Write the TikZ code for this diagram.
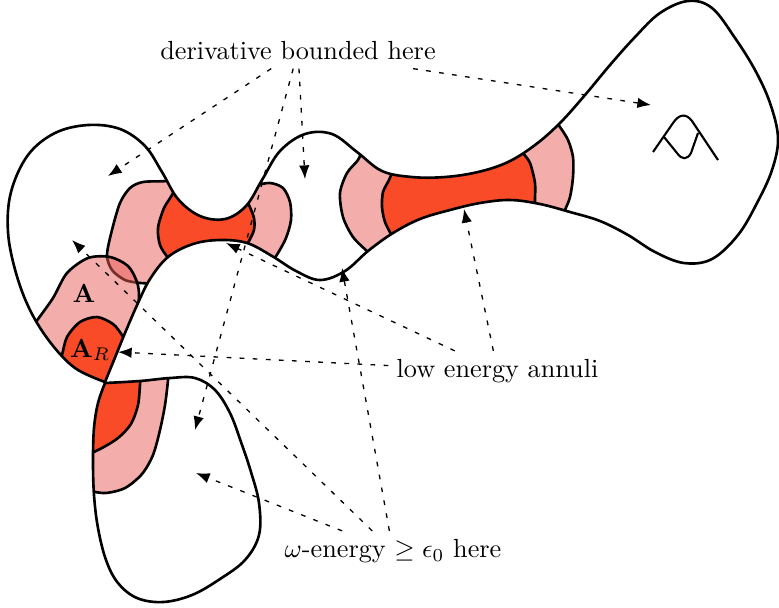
\documentclass[tikz,border=0pt]{standalone}
\usetikzlibrary{arrows.meta}
\definecolor{annred}{RGB}{250,75,40}
\definecolor{annpink}{RGB}{232,92,88}
\begin{document}
\begin{tikzpicture}[x=0.3817pt,y=-0.3817pt,
  outl/.style={line width=1pt, line join=round},
  pinkreg/.style={fill=annpink, fill opacity=0.5, draw=black, line width=1pt},
  redreg/.style={fill=annred, draw=black, line width=1pt},
  ptr/.style={dash pattern=on 1.8pt off 3.2pt, line width=0.5pt, -{Latex[length=5.2pt,width=4pt]}},
  lbl/.style={inner sep=3pt},
  upperoutline/.style={insert path={plot[smooth, tension=0.6] coordinates {
    (105,382) (75,368) (50,342) (30,310) (16,273) (8,232) (11,192) (28,155) (55,133)
    (88,125) (120,129) (145,146) (162,172) (178,199) (200,216) (225,219) (246,206)
    (262,180) (280,151) (305,134) (332,134) (357,152) (382,171) (412,177) (445,177)
    (478,172) (508,162) (535,145) (560,123) (585,95) (610,65) (635,37) (660,13)
    (688,1) (712,8) (735,38) (755,70) (770,103) (778,138) (772,170) (757,203)
    (738,235) (712,259) (684,263) (655,252) (628,235) (600,221) (570,212) (540,204)
    (510,200) (480,203) (450,210) (420,219) (393,233) (368,251) (345,271) (320,280)
    (296,271) (272,256) (247,243) (220,240) (193,244) (168,257) (150,279) (138,303)
    (125,333) (114,360) (105,382)} -- cycle}},
  loweroutline/.style={insert path={plot[smooth, tension=0.6] coordinates {
    (105,383) (140,381) (170,378) (195,378) (215,390) (230,413) (241,442) (251,472)
    (259,503) (259,535) (245,560) (220,579) (192,595) (163,602) (137,598) (118,583)
    (106,560) (98,528) (94,495) (93,460) (94,428) (98,403) (105,383)} -- cycle}}
]
\useasboundingbox (0,0) rectangle (779,607);

% annuli in the upper chain of bubbles
\begin{scope}
  \clip[upperoutline];
  % neck, left pink
  \path[pinkreg] plot[smooth] coordinates {(185,178) (167,181) (143,182) (130,188) (120,203)
     (112,230) (107,255) (112,270) (125,280) (140,283)} -- (160,284) -- (185,262) -- cycle;
  % annulus A
  \path[pinkreg] plot[smooth] coordinates {(28,335) (36,322) (53,298) (67,273) (88,258)
     (110,257) (128,266) (137,282) (139,297) (136,318) (130,345)} -- (115,395) -- (50,375) -- cycle;
  % neck, right pink
  \path[pinkreg] plot[smooth] coordinates {(240,195) (255,186) (270,183) (283,188) (290,202)
     (291,220) (286,238) (278,253) (270,265)} -- (230,265) -- cycle;
  % neck, red
  \path[redreg] plot[smooth] coordinates {(176,178) (173,193) (164,208) (158,228) (160,245)
     (168,258) (178,272)} -- (250,262) -- plot[smooth] coordinates {(244,250) (249,241)
     (254,230) (254,218) (249,205) (243,192)} -- cycle;
  % A_R, red
  \path[redreg] plot[smooth] coordinates {(58,365) (62,355) (67,337) (80,322) (97,317)
     (113,324) (122,335) (128,345)} -- (120,400) -- cycle;
  % middle annulus, pinks
  \path[pinkreg] plot[smooth] coordinates {(362,150) (358,160) (347,173) (340,193) (343,217)
     (353,237) (368,252) (375,258)} -- (420,250) -- (420,160) -- cycle;
  \path[pinkreg] plot[smooth] coordinates {(555,120) (560,127) (568,140) (573,157) (573,177)
     (570,197) (565,210) (562,218)} -- (500,220) -- (500,140) -- cycle;
  % middle annulus, red
  \path[redreg] plot[smooth] coordinates {(393,170) (389,180) (383,192) (382,207) (385,222)
     (392,236) (397,245)} -- (540,215) -- plot[smooth] coordinates {(536,210) (535,200)
     (535,183) (530,163) (523,153) (518,145)} -- cycle;
\end{scope}

% annuli in the lower bubble
\begin{scope}
  \clip[loweroutline];
  \path[pinkreg] plot[smooth] coordinates {(168,370) (168,380) (165,405) (160,430) (153,455)
     (142,474) (125,488) (105,493) (85,490)} -- (85,370) -- cycle;
  \path[redreg] plot[smooth] coordinates {(141,372) (140,385) (138,405) (131,424) (118,438)
     (102,448) (85,456)} -- (85,370) -- cycle;
\end{scope}

% outlines
\draw[outl, upperoutline];
\draw[outl, loweroutline];

% mark in the right bubble
\draw[line width=0.8pt, line join=round] (653,152) -- (673,123) .. controls (679,114) and (686,113) .. (692,121) -- (718,160);
\draw[line width=0.8pt, line join=round] (664,137) -- (677,153) .. controls (682,160) and (687,160) .. (691,153) -- (698,133);

% labels
\node[lbl] (D) at (298,51) {derivative bounded here};
\node[lbl] (L) at (497.5,371) {low energy annuli};
\node[lbl] (W) at (393,551) {$\omega$-energy $\geq \epsilon_0$ here};
\node (A) at (84,293) {$\mathbf{A}$};
\node (AR) at (90,350) {$\mathbf{A}_R$};

% arrow tips
\coordinate (tD1) at (108,176);
\coordinate (tD2) at (305,179);
\coordinate (tD3) at (651,105);
\coordinate (tD4) at (195,430);
\coordinate (tL1) at (118,352);
\coordinate (tL2) at (226,243);
\coordinate (tL3) at (464,209);
\coordinate (tW1) at (72,240);
\coordinate (tW2) at (196,473);
\coordinate (tW3) at (342,268);

\draw[ptr] (D) -- (tD1);
\draw[ptr] (D) -- (tD2);
\draw[ptr] (D) -- (tD3);
\draw[ptr] (D) -- (tD4);
\draw[ptr] (L) -- (tL1);
\draw[ptr] (L) -- (tL2);
\draw[ptr] (L) -- (tL3);
\draw[ptr] (W) -- (tW1);
\draw[ptr] (W) -- (tW2);
\draw[ptr] (W) -- (tW3);
\end{tikzpicture}
\end{document}
